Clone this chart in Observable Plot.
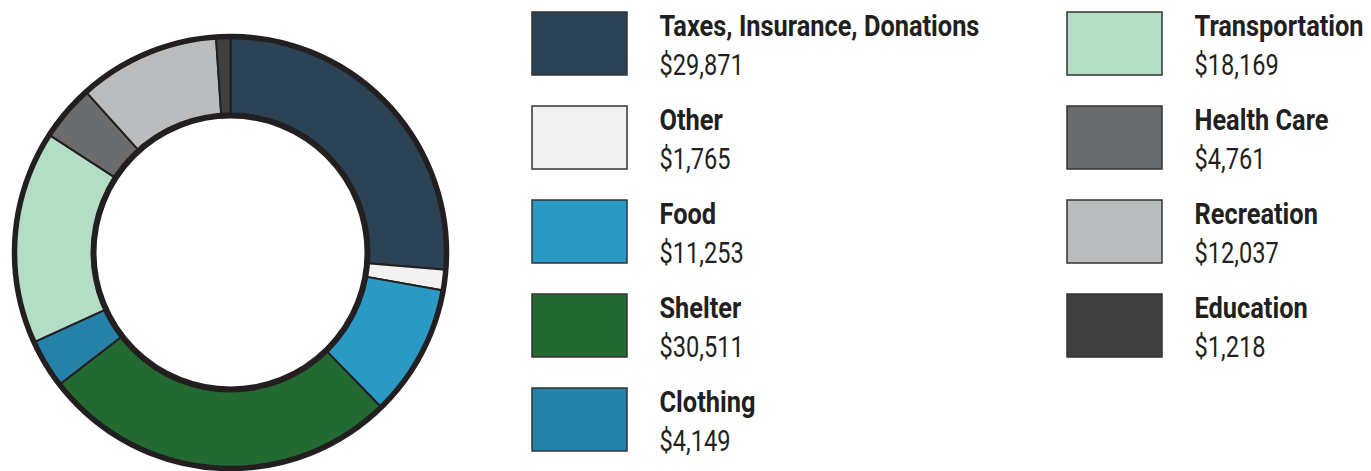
<!DOCTYPE html>
<html>
<head>
<meta charset="utf-8">
<script src="https://cdn.jsdelivr.net/npm/d3@7"></script>
<script src="https://cdn.jsdelivr.net/npm/@observablehq/plot@0.6"></script>
<style>
  html, body { margin: 0; padding: 0; background: #fff; }
  #chart { width: 1371px; height: 471px; overflow: hidden; }
</style>
</head>
<body>
<div id="chart"></div>
<script>
const categories = ["Taxes, Insurance, Donations", "Other", "Food", "Shelter", "Clothing", "Transportation", "Health Care", "Recreation", "Education"];
const values = [29871, 1765, 11253, 30511, 4149, 18169, 4761, 12037, 1218];
const colors = ["#2c4356", "#f1f1f1", "#2a99c3", "#236a32", "#2581a7", "#b3dec5", "#6b6c6e", "#bbbcbe", "#404040"];

const W = 1371, H = 471;
const cx = 230, cy = 252, rOuter = 216, rInner = 137;
const ink = "#231f20";
const font = "Roboto, 'Liberation Sans', sans-serif";

// slices
const arcs = d3.pie().value(d => d).sort(null)(values);
const slicePts = [];
arcs.forEach((a, i) => {
  const n = Math.max(4, Math.ceil((a.endAngle - a.startAngle) / (Math.PI / 720)));
  const pts = [];
  for (let k = 0; k <= n; k++) {
    const t = a.startAngle + (a.endAngle - a.startAngle) * k / n;
    pts.push([cx + rOuter * Math.sin(t), cy - rOuter * Math.cos(t)]);
  }
  for (let k = n; k >= 0; k--) {
    const t = a.startAngle + (a.endAngle - a.startAngle) * k / n;
    pts.push([cx + rInner * Math.sin(t), cy - rInner * Math.cos(t)]);
  }
  pts.push(pts[0]);
  pts.forEach(p => slicePts.push({cat: categories[i], x: p[0], y: p[1]}));
});

// legend layout
const fmt = d3.format("$,");
const legend = categories.map((c, i) => {
  const col = i < 5 ? 0 : 1;
  const row = i < 5 ? i : i - 5;
  const x0 = 532 + col * 535;
  const y0 = 12 + row * 94;
  return {cat: c, label: fmt(values[i]), x1: x0, x2: x0 + 95, y1: y0, y2: y0 + 63, tx: x0 + 127, ty1: y0 + 23, ty2: y0 + 62};
});

const chart = Plot.plot({
  width: W,
  height: H,
  margin: 0,
  x: {domain: [0, W], range: [0, W], axis: null},
  y: {domain: [0, H], range: [0, H], axis: null},
  color: {domain: categories, range: colors},
  style: {fontFamily: font, background: "white", overflow: "hidden"},
  marks: [
    Plot.line(slicePts, {x: "x", y: "y", z: "cat", fill: "cat", stroke: ink, strokeWidth: 2, curve: "linear", strokeLinejoin: "miter"}),
    Plot.dot([{x: cx, y: cy}], {x: "x", y: "y", r: rOuter, stroke: ink, strokeWidth: 5.5, fill: "none"}),
    Plot.dot([{x: cx, y: cy}], {x: "x", y: "y", r: rInner, stroke: ink, strokeWidth: 6, fill: "none"}),
    Plot.rect(legend, {x1: "x1", x2: "x2", y1: "y1", y2: "y2", fill: "cat", stroke: "#333", strokeWidth: 1.5}),
    Plot.text(legend, {x: "tx", y: "ty1", text: "cat", textAnchor: "start", lineAnchor: "bottom", fontWeight: "bold", fontSize: 29.5, fill: ink, className: "lg-name"}),
    Plot.text(legend, {x: "tx", y: "ty2", text: "label", textAnchor: "start", lineAnchor: "bottom", fontSize: 29.5, fill: ink, className: "lg-value"})
  ]
});
document.getElementById("chart").appendChild(chart);

// emulate a condensed typeface by horizontally compressing glyphs
function condense(selector, factor) {
  chart.querySelectorAll(selector + " text").forEach(t => {
    const w = t.getComputedTextLength();
    t.setAttribute("textLength", (w * factor).toFixed(1));
    t.setAttribute("lengthAdjust", "spacingAndGlyphs");
  });
}
condense(".lg-name", 0.86);
condense(".lg-value", 0.80);
</script>
</body>
</html>
